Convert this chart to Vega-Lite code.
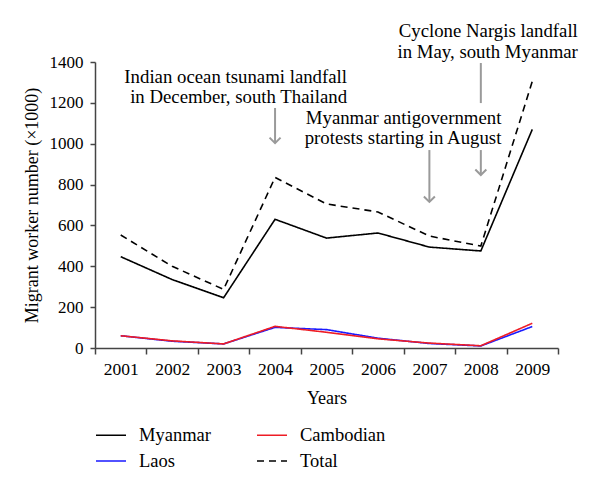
{
  "$schema": "https://vega.github.io/schema/vega-lite/v6.json",
  "width": 463,
  "height": 286,
  "autosize": {"type": "none"},
  "padding": {"left": 95, "top": 62, "right": 42, "bottom": 142},
  "background": "white",
  "config": {
    "font": "Liberation Serif",
    "view": {"stroke": null},
    "axis": {"domainColor": "#444", "tickColor": "#444", "domainWidth": 1.5, "tickWidth": 1.5, "labelColor": "black", "titleColor": "black", "labelFont": "Liberation Serif", "titleFont": "Liberation Serif", "titleFontWeight": "normal", "grid": false},
    "legend": {"labelFont": "Liberation Serif"}
  },
  "datasets": {
    "series": [
      {"year": "2001", "series": "Myanmar", "value": 447},
      {"year": "2002", "series": "Myanmar", "value": 335},
      {"year": "2003", "series": "Myanmar", "value": 246},
      {"year": "2004", "series": "Myanmar", "value": 630},
      {"year": "2005", "series": "Myanmar", "value": 538},
      {"year": "2006", "series": "Myanmar", "value": 563},
      {"year": "2007", "series": "Myanmar", "value": 494},
      {"year": "2008", "series": "Myanmar", "value": 475},
      {"year": "2009", "series": "Myanmar", "value": 1070},
      {"year": "2001", "series": "Total", "value": 553},
      {"year": "2002", "series": "Total", "value": 400},
      {"year": "2003", "series": "Total", "value": 287},
      {"year": "2004", "series": "Total", "value": 835},
      {"year": "2005", "series": "Total", "value": 705},
      {"year": "2006", "series": "Total", "value": 666},
      {"year": "2007", "series": "Total", "value": 548},
      {"year": "2008", "series": "Total", "value": 499},
      {"year": "2009", "series": "Total", "value": 1305},
      {"year": "2001", "series": "Laos", "value": 60},
      {"year": "2002", "series": "Laos", "value": 33},
      {"year": "2003", "series": "Laos", "value": 20},
      {"year": "2004", "series": "Laos", "value": 101},
      {"year": "2005", "series": "Laos", "value": 90},
      {"year": "2006", "series": "Laos", "value": 48},
      {"year": "2007", "series": "Laos", "value": 22},
      {"year": "2008", "series": "Laos", "value": 10},
      {"year": "2009", "series": "Laos", "value": 105},
      {"year": "2001", "series": "Cambodian", "value": 60},
      {"year": "2002", "series": "Cambodian", "value": 35},
      {"year": "2003", "series": "Cambodian", "value": 20},
      {"year": "2004", "series": "Cambodian", "value": 106},
      {"year": "2005", "series": "Cambodian", "value": 77},
      {"year": "2006", "series": "Cambodian", "value": 45},
      {"year": "2007", "series": "Cambodian", "value": 24},
      {"year": "2008", "series": "Cambodian", "value": 11},
      {"year": "2009", "series": "Cambodian", "value": 121}
    ],
    "arrows": [
      {"year": "2004", "start": 1175, "end": 1003, "head": true},
      {"year": "2007", "start": 969, "end": 715, "head": true},
      {"year": "2008", "start": 1395, "end": 1199, "head": false},
      {"year": "2008", "start": 969, "end": 847, "head": true}
    ],
    "notesA": [
      {"year": "2004", "value": 1326, "label": ["Indian ocean tsunami landfall", "in December, south Thailand"]},
      {"year": "2007", "value": 1126, "label": ["Myanmar antigovernment", "protests starting in August"]}
    ],
    "notesB": [
      {"year": "2008", "value": 1552, "label": ["Cyclone Nargis landfall", "in May, south Myanmar"]}
    ]
  },
  "encoding": {
    "x": {
      "field": "year", "type": "ordinal",
      "scale": {"type": "band", "paddingInner": 0, "paddingOuter": 0, "domain": ["2001","2002","2003","2004","2005","2006","2007","2008","2009"]},
      "axis": {"title": "Years", "labelAngle": 0, "tickBand": "extent", "labelFont": "Liberation Serif", "titleFont": "Liberation Serif", "labelFontSize": 17.5, "titleFontSize": 18, "tickSize": 6, "labelPadding": 6, "titlePadding": 12}
    }
  },
  "layer": [
    {
      "data": {"name": "series"},
      "mark": {"type": "line", "strokeWidth": 1.6},
      "encoding": {
        "y": {
          "field": "value", "type": "quantitative",
          "scale": {"domain": [0, 1400], "nice": false},
          "axis": {"title": "Migrant worker number (×1000)", "values": [0,200,400,600,800,1000,1200,1400], "format": "d", "labelFont": "Liberation Serif", "titleFont": "Liberation Serif", "labelFontSize": 17, "titleFontSize": 18, "tickSize": 5, "labelPadding": 7, "titlePadding": 8}
        },
        "color": {
          "field": "series", "type": "nominal",
          "scale": {"domain": ["Myanmar", "Laos", "Cambodian", "Total"], "range": ["#000000", "#1a1aff", "#ee1c25", "#000000"]},
          "legend": {
            "title": null, "orient": "none", "legendX": 0, "legendY": 357, "columns": 2,
            "symbolType": "stroke", "symbolSize": 900, "symbolStrokeWidth": 1.6,
            "labelFont": "Liberation Serif", "labelFontSize": 18.5, "labelOffset": 12, "columnPadding": 42, "rowPadding": -7, "labelColor": "black"
          }
        },
        "strokeDash": {
          "field": "series", "type": "nominal",
          "scale": {"domain": ["Myanmar", "Laos", "Cambodian", "Total"], "range": [[1,0],[1,0],[1,0],[7,5]]},
          "legend": {
            "title": null, "orient": "none", "legendX": 0, "legendY": 357, "columns": 2,
            "symbolType": "stroke", "symbolSize": 900, "symbolStrokeWidth": 1.6,
            "labelFont": "Liberation Serif", "labelFontSize": 18.5, "labelOffset": 12, "columnPadding": 42, "rowPadding": -7, "labelColor": "black"
          }
        }
      }
    },
    {
      "data": {"name": "arrows"},
      "mark": {"type": "rule", "color": "#9a9a9a", "strokeWidth": 2},
      "encoding": {
        "y": {"field": "start", "type": "quantitative"},
        "y2": {"field": "end"}
      }
    },
    {
      "data": {"name": "arrows"},
      "transform": [{"filter": "datum.head"}],
      "mark": {"type": "point", "shape": "M-1,-1L0,0L1,-1", "filled": false, "color": "#9a9a9a", "strokeWidth": 2, "size": 121, "opacity": 1},
      "encoding": {
        "y": {"field": "end", "type": "quantitative"}
      }
    },
    {
      "data": {"name": "notesA"},
      "mark": {"type": "text", "align": "right", "baseline": "middle", "dx": 72, "fontSize": 18.8, "lineHeight": 20, "font": "Liberation Serif", "color": "black"},
      "encoding": {
        "y": {"field": "value", "type": "quantitative"},
        "text": {"field": "label"}
      }
    },
    {
      "data": {"name": "notesB"},
      "mark": {"type": "text", "align": "right", "baseline": "middle", "dx": 97, "fontSize": 18.8, "lineHeight": 21, "font": "Liberation Serif", "color": "black"},
      "encoding": {
        "y": {"field": "value", "type": "quantitative"},
        "text": {"field": "label"}
      }
    }
  ]
}
